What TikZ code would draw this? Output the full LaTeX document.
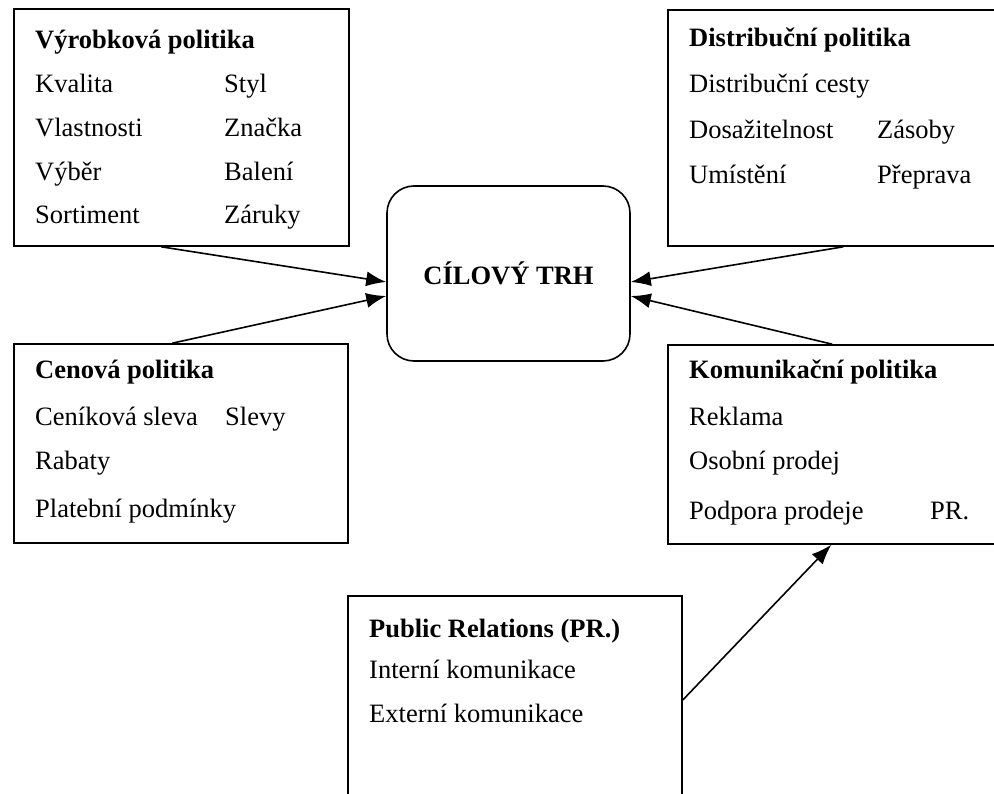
\documentclass[tikz,border=0pt]{standalone}
\usepackage{fontspec}
\setmainfont{Liberation Serif}
\usetikzlibrary{arrows.meta,calc}
\tikzset{
	box/.style = {draw, line width = 1.6pt, inner sep = 0},
	txt/.style = {anchor = west, inner sep = 0, text height = 18.5pt, text depth = 6.6pt, font = \fontsize{26.5}{32}\selectfont},
	ttl/.style = {txt, font = \fontsize{26.5}{32}\selectfont\bfseries},
	pfeil/.style = {line width = 1.6pt, -{Latex[length = 20pt, width = 15pt]}}
}
\begin{document}
\begin{tikzpicture}[x = 1pt, y = -1pt]
	\clip (0,0) rectangle (994,794);
	\fill [white] (0,0) rectangle (994,794);
	% boxes
	\node [box, minimum width = 335, minimum height = 237] (vyrobek) at (181.5,127.5) {};
	\node [box, minimum width = 342, minimum height = 236] (distribuce) at (839,128) {};
	\node [box, minimum width = 334, minimum height = 199] (cena) at (181,443.5) {};
	\node [box, minimum width = 342, minimum height = 199] (komunikace) at (839,444.5) {};
	\node [box, minimum width = 334, minimum height = 224] (pr) at (515,708) {};
	\node [box, rounded corners = 27pt, minimum width = 243, minimum height = 175, font = \fontsize{26.5}{32}\selectfont\bfseries] (trh) at (508.5,273.5) {CÍLOVÝ TRH};
	% Vyrobkova politika
	\node [ttl] (v0) at (35,43) {Výrobková politika};
	\node [txt] (v1) at (35,87) {Kvalita};
	\node [txt] (v2) at (35,131) {Vlastnosti};
	\node [txt] (v3) at (35,175) {Výběr};
	\node [txt] (v4) at (35,218) {Sortiment};
	\node [txt] (v5) at (224,87) {Styl};
	\node [txt] (v6) at (224,131) {Značka};
	\node [txt] (v7) at (224,175) {Balení};
	\node [txt] (v8) at (224,218) {Záruky};
	% Distribucni politika
	\node [ttl] (d0) at (689,41) {Distribuční politika};
	\node [txt] (d1) at (689,87) {Distribuční cesty};
	\node [txt] (d2) at (689,133) {Dosažitelnost};
	\node [txt] (d3) at (689,178) {Umístění};
	\node [txt] (d4) at (877,133) {Zásoby};
	\node [txt] (d5) at (877,178) {Přeprava};
	% Cenova politika
	\node [ttl] (c0) at (35,373) {Cenová politika};
	\node [txt] (c1) at (35,420) {Ceníková sleva};
	\node [txt] (c2) at (35,464) {Rabaty};
	\node [txt] (c3) at (35,512) {Platební podmínky};
	\node [txt] (c4) at (225,420) {Slevy};
	% Komunikacni politika
	\node [ttl] (k0) at (689,373) {Komunikační politika};
	\node [txt] (k1) at (689,420) {Reklama};
	\node [txt] (k2) at (689,464) {Osobní prodej};
	\node [txt] (k3) at (689,514) {Podpora prodeje};
	\node [txt] (k4) at (930,514) {PR.};
	% Public Relations
	\node [ttl] (p0) at (369,632) {Public Relations (PR.)};
	\node [txt] (p1) at (369,673) {Interní komunikace};
	\node [txt] (p2) at (369,717) {Externí komunikace};
	% arrows
	\draw [pfeil] ($(vyrobek.south west)+(148,0)$) -- ($(trh.west)+(0,8.5)$);
	\draw [pfeil] ($(cena.north west)+(159,0)$) -- ($(trh.west)+(0,22.5)$);
	\draw [pfeil] ($(distribuce.south west)+(176,0)$) -- ($(trh.east)+(0,8.5)$);
	\draw [pfeil] ($(komunikace.north west)+(165,0)$) -- ($(trh.east)+(0,22.5)$);
	\draw [pfeil] ($(pr.east)+(0,-8)$) -- ($(komunikace.south west)+(164,0)$);
\end{tikzpicture}
\end{document}
